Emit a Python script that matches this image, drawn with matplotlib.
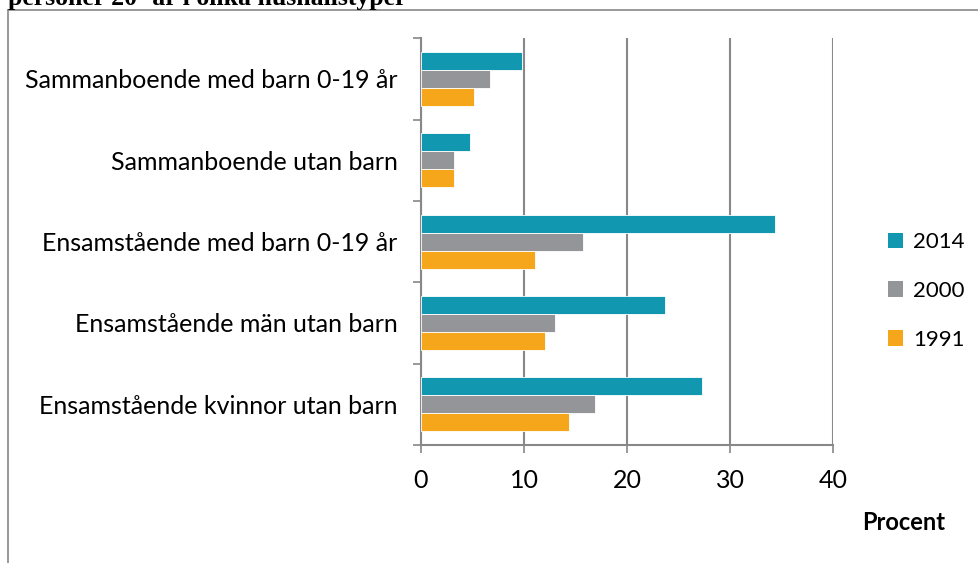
import matplotlib
matplotlib.use("Agg")
import matplotlib.pyplot as plt
from matplotlib.lines import Line2D
from matplotlib.patches import Patch
import numpy as np

categories = ["Ensamstående kvinnor utan barn",
              "Ensamstående män utan barn",
              "Ensamstående med barn 0-19 år",
              "Sammanboende utan barn",
              "Sammanboende med barn 0-19 år"]
years = ["2014", "2000", "1991"]
v2014 = [27.3, 23.7, 34.4, 4.8, 9.8]
v2000 = [16.9, 13.0, 15.7, 3.2, 6.7]
v1991 = [14.4, 12.0, 11.1, 3.2, 5.1]
colors = ["#1197AF", "#939598", "#F5A61A"]
xticks = [0, 10, 20, 30, 40]

plt.rcParams['font.family'] = ['Lato', 'DejaVu Sans']

fig = plt.figure(figsize=(9.79, 5.63), dpi=100)
ax = fig.add_axes([421/979, 1-445/563, (833-421)/979, (445-38.3)/563])

y = np.arange(len(categories))
h = 0.221
for vals, off, c in zip([v2014, v2000, v1991], [h, 0, -h], colors):
    ax.barh(y + off, vals, height=h, color=c, edgecolor='white', linewidth=0.6, zorder=3)

ax.set_xlim(0, 40)
ax.set_ylim(-0.5, len(categories) - 0.5)
ax.set_xticks(xticks)
ax.set_xticklabels([str(t) for t in xticks], fontsize=18)
ax.set_yticks(y)
ax.set_yticklabels(categories, fontsize=18)
ax.set_yticks(np.arange(-0.5, len(categories)), minor=True)
ax.tick_params(axis='y', which='major', length=0, pad=17)
ax.tick_params(axis='y', which='minor', length=6, width=1.2, color='#888888')
ax.tick_params(axis='x', which='major', length=6, width=1.2, color='#888888', pad=11)
ax.grid(axis='x', color='#888888', linewidth=1.5, zorder=0)
for s in ['top', 'right']:
    ax.spines[s].set_visible(False)
for s in ['left', 'bottom']:
    ax.spines[s].set_color('#888888')
    ax.spines[s].set_linewidth(1.5)

handles = [Patch(facecolor=c, edgecolor='none') for c in colors]
fig.legend(handles, years, loc='center left', bbox_to_anchor=(879/979, 1-291/563),
           frameon=False, fontsize=16, handlelength=0.7, handleheight=0.7,
           labelspacing=1.3, handletextpad=0.45, borderaxespad=0)

fig.text(904/979, 1-522/563, "Procent", ha='center', va='center', fontsize=17, fontweight='bold')

fig.text(8/979, 1-5/563, "personer 20- år i olika hushållstyper", ha='left', va='baseline',
         fontsize=18.5, fontweight='bold', family=['Liberation Serif', 'DejaVu Serif'])

fig.add_artist(Line2D([8/979, 1], [1-10/563, 1-10/563], transform=fig.transFigure, color='#888888', lw=1.2))
fig.add_artist(Line2D([8/979, 8/979], [0, 1-10/563], transform=fig.transFigure, color='#888888', lw=1.2))

fig.savefig("out.png", dpi=100)
